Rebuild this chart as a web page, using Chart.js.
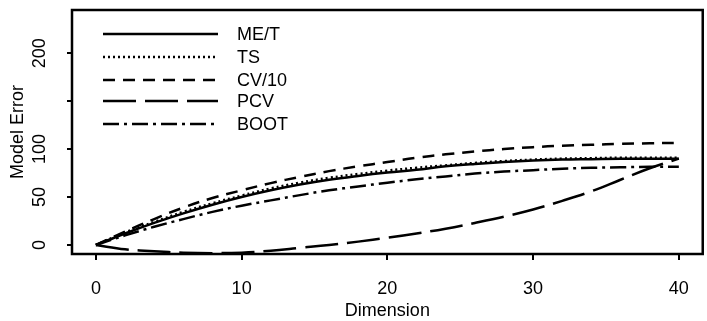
<!DOCTYPE html>
<html>
<head>
<meta charset="utf-8">
<script src="https://cdn.jsdelivr.net/npm/chart.js@4"></script>
<style>
  html, body { margin: 0; padding: 0; background: #fff; }
  #wrap { width: 707px; height: 321px; position: relative; }
</style>
</head>
<body>
<div id="wrap"><canvas id="myChart"></canvas></div>
<script>
// data
const dims = [0, 2, 4, 6, 8, 10, 12, 14, 16, 18, 20, 22, 24, 26, 28, 30, 32, 34, 36, 38, 40];
const meT  = [0, 12, 23, 33, 42, 50, 57, 63, 68, 72, 75.5, 78.5, 82, 84.5, 86.5, 88, 89, 89.5, 90, 90, 90];
const ts   = [0, 13, 24, 34.5, 43.5, 51.5, 59, 65, 70, 74, 77.5, 80.5, 83, 85.5, 87.5, 89, 90, 90.5, 91, 91, 91];
const cv10 = [0, 14, 27, 39, 49, 57, 64.5, 71, 77, 82, 86.5, 91, 94.5, 97.5, 100, 102, 103.5, 104.5, 105.5, 106, 106.5];
const pcv  = [0, -4.5, -6.5, -8, -8.5, -8, -6, -3, 0, 3.5, 7.5, 12, 17, 23, 29.5, 37, 46, 56, 68, 80, 90];
const boot = [0, 10, 19, 27, 34.5, 41, 46.5, 52, 57, 61, 65, 68.5, 71.5, 74.5, 76.5, 78, 79.5, 80.5, 81, 81.5, 81.5];

const xTicks = [0, 10, 20, 30, 40];
const yTicks = [0, 50, 100, 150, 200];
const yLabels = ['0', '50', '100', '', '200'];

const seriesNames = ['ME/T', 'TS', 'CV/10', 'PCV', 'BOOT'];
const seriesVals = [meT, ts, cv10, pcv, boot];
const dashes = [[], [2, 3], [12, 8], [33, 9], [16, 5, 3, 5]];

const ink = '#000';
const FONT = '18px "Liberation Sans", Arial, sans-serif';

const data = {
  datasets: seriesNames.map((name, i) => ({
    label: name,
    data: dims.map((d, j) => ({ x: d, y: seriesVals[i][j] })),
    borderColor: ink,
    borderWidth: 2.5,
    borderDash: dashes[i],
    pointRadius: 0,
    tension: 0.4,
    fill: false
  }))
};

// frame, legend, axis labels (R style)
const rStyle = {
  id: 'rStyle',
  afterDraw(chart) {
    const { ctx, chartArea: { left, right, top, bottom } } = chart;
    const ys = chart.scales.y;
    ctx.save();
    ctx.strokeStyle = ink;
    ctx.lineWidth = 2.5;
    ctx.strokeRect(left, top, right - left, bottom - top);

    // legend
    ctx.font = FONT;
    ctx.fillStyle = ink;
    ctx.textBaseline = 'middle';
    ctx.textAlign = 'left';
    const rows = [34, 57, 80, 101, 124];
    chart.data.datasets.forEach((ds, i) => {
      const y = rows[i];
      ctx.beginPath();
      ctx.lineWidth = 2.5;
      ctx.setLineDash(ds.borderDash);
      ctx.moveTo(left + 31, y);
      ctx.lineTo(left + 146, y);
      ctx.stroke();
      ctx.setLineDash([]);
      ctx.fillText(ds.label, left + 165, y + 1);
    });

    // y tick labels, rotated
    ctx.textAlign = 'center';
    yTicks.forEach((v, i) => {
      if (!yLabels[i]) return;
      const py = ys.getPixelForValue(v);
      ctx.save();
      ctx.translate(39, py);
      ctx.rotate(-Math.PI / 2);
      ctx.fillText(yLabels[i], 0, 1);
      ctx.restore();
    });

    // axis titles
    ctx.save();
    ctx.translate(18, (top + bottom) / 2);
    ctx.rotate(-Math.PI / 2);
    ctx.fillText('Model Error', 0, 0);
    ctx.restore();
    ctx.fillText('Dimension', (left + right) / 2, 311);
    ctx.restore();
  }
};

const config = {
  type: 'line',
  data,
  options: {
    responsive: true,
    maintainAspectRatio: false,
    animation: false,
    layout: { padding: { top: 10, right: 4, left: 0, bottom: 0 } },
    plugins: {
      legend: { display: false },
      tooltip: { enabled: false }
    },
    scales: {
      x: {
        type: 'linear',
        min: -1.64,
        max: 41.64,
        afterBuildTicks: s => { s.ticks = xTicks.map(v => ({ value: v })); },
        afterFit: s => { s.height = 67; },
        border: { display: false },
        grid: { drawOnChartArea: false, drawTicks: true, tickLength: 6, color: ink, lineWidth: 2 },
        ticks: { color: ink, font: { family: '"Liberation Sans", Arial, sans-serif', size: 18 }, padding: 18, maxRotation: 0 }
      },
      y: {
        type: 'linear',
        min: -9.4,
        max: 245,
        afterBuildTicks: s => { s.ticks = yTicks.map(v => ({ value: v })); },
        afterFit: s => { s.width = 72; },
        border: { display: false },
        grid: { drawOnChartArea: false, drawTicks: true, tickLength: 5, color: ink, lineWidth: 2 },
        ticks: { display: false }
      }
    }
  },
  plugins: [rStyle]
};

const myChart = new Chart(document.getElementById('myChart'), config);
</script>
</body>
</html>
